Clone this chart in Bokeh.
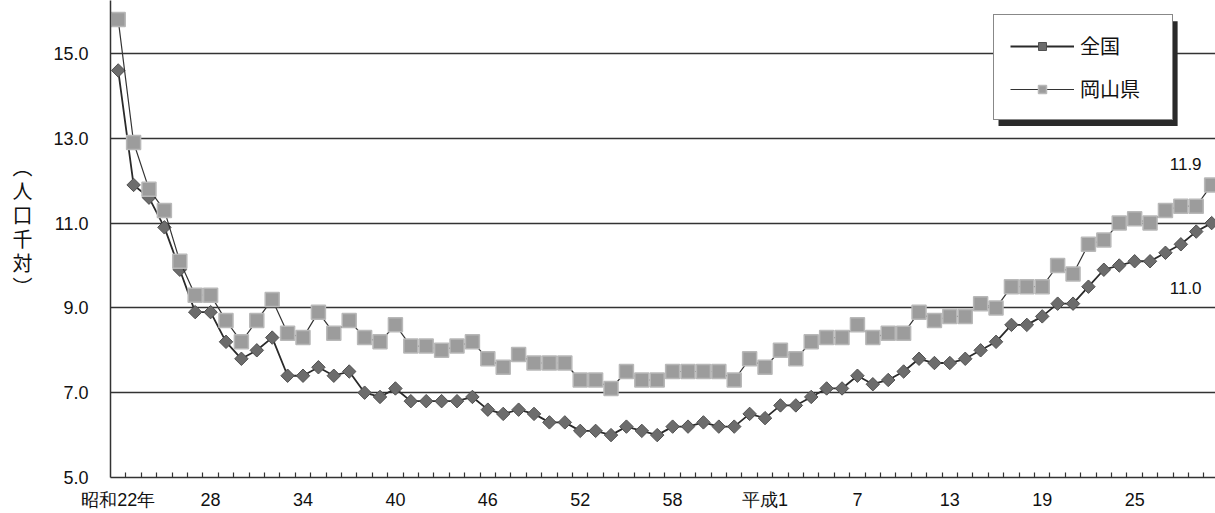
import math
from bokeh.plotting import figure
from bokeh.models import (FixedTicker, Legend, LegendItem, Label, BoxAnnotation,
                          Range1d, ColumnDataSource, PrintfTickFormatter, Div)
from bokeh.layouts import row
from bokeh.embed import file_html
from bokeh.resources import INLINE

# ---- data -------------------------------------------------------------
# 昭和22年(1947) ... 平成30年(2018), one value per year
year_index = list(range(72))
tick_positions = [0, 6, 12, 18, 24, 30, 36, 42, 48, 54, 60, 66]
tick_labels = ["昭和22年", "28", "34", "40", "46", "52", "58", "平成1", "7", "13", "19", "25"]

zenkoku = [14.6, 11.9, 11.6, 10.9, 9.9, 8.9, 8.9, 8.2, 7.8, 8.0,
           8.3, 7.4, 7.4, 7.6, 7.4, 7.5, 7.0, 6.9, 7.1, 6.8,
           6.8, 6.8, 6.8, 6.9, 6.6, 6.5, 6.6, 6.5, 6.3, 6.3,
           6.1, 6.1, 6.0, 6.2, 6.1, 6.0, 6.2, 6.2, 6.3, 6.2,
           6.2, 6.5, 6.4, 6.7, 6.7, 6.9, 7.1, 7.1, 7.4, 7.2,
           7.3, 7.5, 7.8, 7.7, 7.7, 7.8, 8.0, 8.2, 8.6, 8.6,
           8.8, 9.1, 9.1, 9.5, 9.9, 10.0, 10.1, 10.1, 10.3, 10.5,
           10.8, 11.0]

okayama = [15.8, 12.9, 11.8, 11.3, 10.1, 9.3, 9.3, 8.7, 8.2, 8.7,
           9.2, 8.4, 8.3, 8.9, 8.4, 8.7, 8.3, 8.2, 8.6, 8.1,
           8.1, 8.0, 8.1, 8.2, 7.8, 7.6, 7.9, 7.7, 7.7, 7.7,
           7.3, 7.3, 7.1, 7.5, 7.3, 7.3, 7.5, 7.5, 7.5, 7.5,
           7.3, 7.8, 7.6, 8.0, 7.8, 8.2, 8.3, 8.3, 8.6, 8.3,
           8.4, 8.4, 8.9, 8.7, 8.8, 8.8, 9.1, 9.0, 9.5, 9.5,
           9.5, 10.0, 9.8, 10.5, 10.6, 11.0, 11.1, 11.0, 11.3, 11.4,
           11.4, 11.9]

y_ticks = [5, 7, 9, 11, 13, 15]
series_names = ["全国", "岡山県"]
y_title = "（人口千対）"

src = ColumnDataSource(dict(x=year_index, zenkoku=zenkoku, okayama=okayama))

# ---- figure -----------------------------------------------------------
p = figure(width=1175, height=513, output_backend="svg", toolbar_location=None,
           x_range=Range1d(-0.5, 71.25), y_range=Range1d(5, 16.25),
           min_border_left=70, min_border_right=0, min_border_top=0,
           min_border_bottom=36, margin=0)
p.outline_line_color = None
p.background_fill_color = "white"
p.border_fill_color = "white"

# grid
p.xgrid.visible = False
p.ygrid.ticker = FixedTicker(ticks=y_ticks)
p.ygrid.grid_line_color = "#333333"
p.ygrid.grid_line_width = 1.3

# x axis
xa = p.xaxis[0]
xa.ticker = FixedTicker(ticks=tick_positions, minor_ticks=[i + 0.5 for i in range(71)])
xa.major_label_overrides = {t: l for t, l in zip(tick_positions, tick_labels)}
xa.major_tick_in = 0
xa.major_tick_out = 0
xa.minor_tick_in = 5
xa.minor_tick_out = 0
xa.minor_tick_line_color = "#333333"
xa.minor_tick_line_width = 1.2
xa.axis_line_color = "#333333"
xa.axis_line_width = 1.5
xa.major_label_text_font = "Liberation Sans"
xa.major_label_text_font_size = "18px"
xa.major_label_text_color = "#111111"
xa.major_label_standoff = 12

# y axis
ya = p.yaxis[0]
ya.ticker = FixedTicker(ticks=y_ticks)
ya.formatter = PrintfTickFormatter(format="%.1f")
ya.major_tick_in = 0
ya.major_tick_out = 0
ya.minor_tick_in = 0
ya.minor_tick_out = 0
ya.axis_line_color = "#333333"
ya.axis_line_width = 1.5
ya.major_label_text_font = "Liberation Sans"
ya.major_label_text_font_size = "18px"
ya.major_label_text_color = "#111111"
ya.major_label_standoff = 22

# series
l1 = p.line("x", "zenkoku", source=src, line_color="#2a2a2a", line_width=1.8)
s1 = p.scatter("x", "zenkoku", source=src, marker="square", size=9.5, angle=math.pi / 4,
               fill_color="#6c6c6c", line_color="#505050", line_width=1)
l2 = p.line("x", "okayama", source=src, line_color="#333333", line_width=1.2)
s2 = p.scatter("x", "okayama", source=src, marker="square", size=14,
               fill_color="#9c9c9c", line_color="#b8b8b8", line_width=1.5)

# legend shadow + legend
shadow = BoxAnnotation(left=57.16, right=68.79, top=15.76, bottom=13.29,
                       fill_color="#2a2a2a", fill_alpha=1, line_color=None)
p.add_layout(shadow)

legend = Legend(items=[LegendItem(label=series_names[0], renderers=[l1, s1]),
                       LegendItem(label=series_names[1], renderers=[l2, s2])],
                location=(883, 357), orientation="vertical", padding=16, spacing=14,
                glyph_width=64, glyph_height=20, label_standoff=6,
                label_width=76, label_height=22, margin=0,
                label_text_font="Noto Sans CJK JP", label_text_font_size="20px",
                label_text_color="#111111",
                border_line_color="#111111", border_line_width=1.5,
                background_fill_color="white", background_fill_alpha=1)
p.add_layout(legend)

# end-value labels
p.add_layout(Label(x=year_index[-1], y=okayama[-1], text=f"{okayama[-1]:.1f}",
                   x_offset=-26, y_offset=21, text_align="center", text_baseline="middle",
                   text_font="Liberation Sans", text_font_size="17px", text_color="#111111"))
p.add_layout(Label(x=year_index[-1], y=zenkoku[-1], text=f"{zenkoku[-1]:.1f}",
                   x_offset=-26, y_offset=-65, text_align="center", text_baseline="middle",
                   text_font="Liberation Sans", text_font_size="17px", text_color="#111111"))

# vertical y-axis title
title_div = Div(text=("<div style=\"writing-mode:vertical-rl; font-family:'Noto Sans CJK JP';"
                      "font-size:20px; letter-spacing:4px; line-height:1; color:#111111;"
                      "margin-top:157px; margin-left:12px;\">" + y_title + "</div>"),
                width=40, height=513, margin=0)

layout = row(title_div, p, margin=0, spacing=0)
open("out.html", "w").write(file_html(layout, INLINE))
